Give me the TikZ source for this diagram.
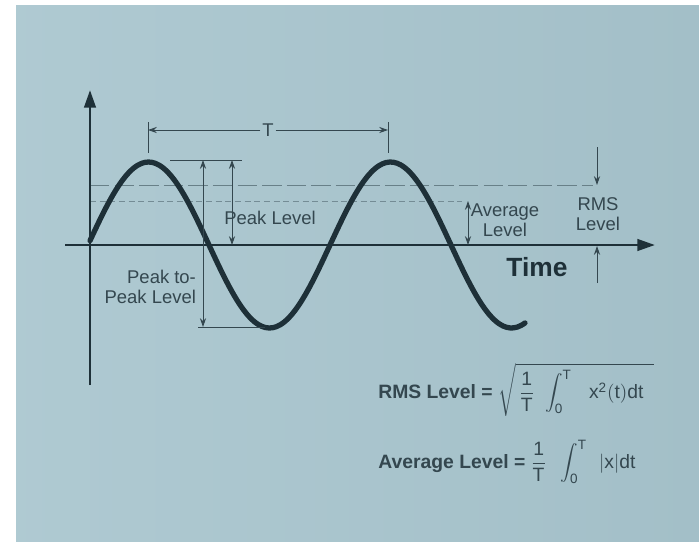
\documentclass[tikz,border=0pt]{standalone}
\usepackage{fontspec}
\setmainfont{Liberation Sans}
\setsansfont{Liberation Sans}
\usetikzlibrary{arrows.meta, positioning, calc}
\definecolor{bgblue}{HTML}{A8C5CE}
\definecolor{ink}{HTML}{1E3038}
\definecolor{labelgray}{HTML}{34474F}

\begin{document}
\begin{tikzpicture}[
    x=0.02cm, y=-0.02cm,
    axis/.style={draw=ink, line width=1.6pt, -{Triangle[length=10pt, width=6.5pt]}},
    wave/.style={draw=ink, line width=3pt, line cap=round},
    dimline/.style={draw=labelgray, line width=0.55pt},
    dimarrow/.style={dimline, {Stealth[length=5pt, width=3.5pt]}-{Stealth[length=5pt, width=3.5pt]}},
    onearrow/.style={dimline, -{Stealth[length=5pt, width=3.5pt]}},
    rmsline/.style={draw=labelgray!55!bgblue, line width=0.5pt, dash pattern=on 11pt off 3pt},
    avgline/.style={draw=labelgray!45!bgblue, line width=0.5pt, dash pattern=on 3.5pt off 2pt},
    levellabel/.style={text=labelgray, font=\fontsize{10.5}{11.5}\selectfont, align=center, inner sep=1pt},
    formula/.style={text=labelgray, font=\fontsize{11}{13}\selectfont\bfseries, anchor=west, inner sep=0pt}
]

% 0. BACKGROUND
\useasboundingbox (0,0) rectangle (699,541);
\fill[white] (0,0) rectangle (699,541);
\shade[left color=bgblue!92!white, right color=bgblue!97!black] (16,5) rectangle (699,541);

% 1. LEVEL LINES
\coordinate (rmsL) at (90,185); \coordinate (rmsR) at (593,185);
\coordinate (avgL) at (90,201); \coordinate (avgR) at (462,201);
\draw[rmsline] (rmsL) -- (rmsR);
\draw[avgline] (avgL) -- (avgR);

% 2. AXES
\coordinate (yBot) at (90,385); \coordinate (yTop) at (90,90);
\coordinate (xLeft) at (65,245); \coordinate (xRight) at (655,245);
\draw[axis] (yBot) -- (yTop);
\draw[axis] (xLeft) -- (xRight);
\node[text=ink, font=\fontsize{15}{16}\selectfont\bfseries] (timeLabel) at (537,267) {Time};

% 3. WAVE
\draw[wave] plot[domain=90:525, samples=120, smooth] (\x, {245-83*sin(1.4876*(\x-88))});

% 4. PERIOD
\coordinate (tL1) at (148,122); \coordinate (tL2) at (148,153);
\coordinate (tR1) at (388,122); \coordinate (tR2) at (388,153);
\draw[dimline] (tL1) -- (tL2); \draw[dimline] (tR1) -- (tR2);
\node[levellabel] (tLabel) at (268,130) {T};
\coordinate (tLeft) at (148,130); \coordinate (tRight) at (388,130);
\draw[onearrow] (tLabel.west) -- (tLeft);
\draw[onearrow] (tLabel.east) -- (tRight);

% 5. PEAK LEVELS
\coordinate (pk1) at (170,160); \coordinate (pk2) at (242,160);
\coordinate (tr1) at (198,327); \coordinate (tr2) at (265,327);
\draw[dimline] (pk1) -- (pk2);
\draw[dimline] (tr1) -- (tr2);
\coordinate (ppTop) at (203,160); \coordinate (ppBot) at (203,327);
\draw[dimarrow] (ppTop) -- (ppBot);
\coordinate (pkTop) at (232,160); \coordinate (pkBot) at (232,245);
\draw[dimarrow] (pkTop) -- (pkBot);
\node[levellabel] (peakLabel) at (270,218) {Peak Level};
\node[levellabel, align=right, anchor=east] (p2pLabel) at (198,287) {Peak to-\\Peak Level};

% 6. AVERAGE / RMS LEVELS
\coordinate (avTop) at (468,201); \coordinate (avBot) at (468,245);
\draw[dimarrow] (avTop) -- (avBot);
\node[levellabel] (avgLabel) at (505,220) {Average\\Level};
\coordinate (rmsTop) at (597,147); \coordinate (rmsMark) at (597,185);
\coordinate (rmsBot) at (597,283); \coordinate (axisMark) at (597,246);
\draw[onearrow] (rmsTop) -- (rmsMark);
\draw[onearrow] (rmsBot) -- (axisMark);
\node[levellabel] (rmsLabel) at (598,214) {RMS\\Level};

% 7. FORMULAS
\node[formula] (rmsEq) at (378,390) {RMS Level =\hspace{3pt}$\displaystyle\sqrt{\,\frac{\mathsf{1}}{\mathsf{T}}\hspace{4pt}\int_{\mathsf{0}}^{\mathsf{T}}\hspace{8pt} \mathsf{x^2(t)dt}\hspace{6pt}}$};
\node[formula] (avgEq) at (378,462) {Average Level =\hspace{3pt}$\displaystyle\frac{\mathsf{1}}{\mathsf{T}}\hspace{6pt}\int_{\mathsf{0}}^{\mathsf{T}}\hspace{5pt} \mathsf{|x|dt}$};

\end{tikzpicture}
\end{document}
